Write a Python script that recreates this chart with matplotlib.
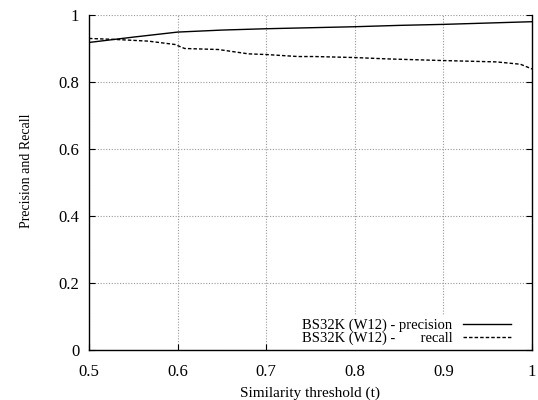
import matplotlib
matplotlib.use('Agg')
import matplotlib.pyplot as plt

# values
threshold_p = [0.5, 0.55, 0.6, 0.65, 0.7, 0.75, 0.8, 0.85, 0.9, 0.95, 1.0]
precision = [0.918, 0.934, 0.949, 0.955, 0.959, 0.962, 0.965, 0.969, 0.972, 0.976, 0.980]

threshold_r = [0.5, 0.53, 0.567, 0.597, 0.608, 0.646, 0.68, 0.7, 0.736, 0.755,
               0.8, 0.836, 0.9, 0.96, 0.987, 1.0]
recall = [0.930, 0.927, 0.922, 0.912, 0.900, 0.897, 0.884, 0.882, 0.876, 0.876,
          0.873, 0.869, 0.864, 0.860, 0.853, 0.839]

xticks = [0.5, 0.6, 0.7, 0.8, 0.9, 1.0]
yticks = [0, 0.2, 0.4, 0.6, 0.8, 1.0]

plt.rcParams['font.family'] = ['Liberation Serif', 'DejaVu Serif']

fig = plt.figure(figsize=(5.38, 4.0), dpi=100)
ax = fig.add_axes([0.1654, 0.125, 0.9888 - 0.1654, 0.9625 - 0.125])

ax.plot(threshold_p, precision, color='black', lw=1.0,
        label='BS32K (W12) - precision')
ax.plot(threshold_r, recall, color='black', lw=1.0, linestyle=(0, (2.5, 1.5)),
        label='BS32K (W12) -       recall')

ax.set_xlim(0.5, 1.0)
ax.set_ylim(0, 1.0)
ax.set_xticks(xticks)
ax.set_xticklabels(['0.5', '0.6', '0.7', '0.8', '0.9', '1'])
ax.set_yticks(yticks)
ax.set_yticklabels(['0', '0.2', '0.4', '0.6', '0.8', '1'])
ax.tick_params(direction='in', length=4, width=0.8, labelsize=12,
               top=False, right=True)
ax.tick_params(axis='x', pad=10)
ax.tick_params(axis='y', pad=7)

ax.grid(True, color='#999999', linestyle=(0, (1, 1.5)), linewidth=0.8)
ax.spines['top'].set_visible(False)
for s in ['left', 'bottom', 'right']:
    ax.spines[s].set_linewidth(1.0)
    ax.spines[s].set_zorder(6)

ax.set_xlabel('Similarity threshold (t)', fontsize=11, labelpad=5)
ax.set_ylabel('Precision and Recall', fontsize=10)
ax.yaxis.set_label_coords(-0.127, 0.534)

leg = ax.legend(loc='lower right', bbox_to_anchor=(0.9616, 0.003),
                markerfirst=False, frameon=True, fontsize=10.5,
                handlelength=3.3, handletextpad=0.75, labelspacing=0.0,
                borderpad=0.25, borderaxespad=0.0, fancybox=False)
leg.get_frame().set_edgecolor('white')
leg.get_frame().set_facecolor('white')
leg.get_frame().set_alpha(1.0)

fig.savefig('out.png', dpi=100)
